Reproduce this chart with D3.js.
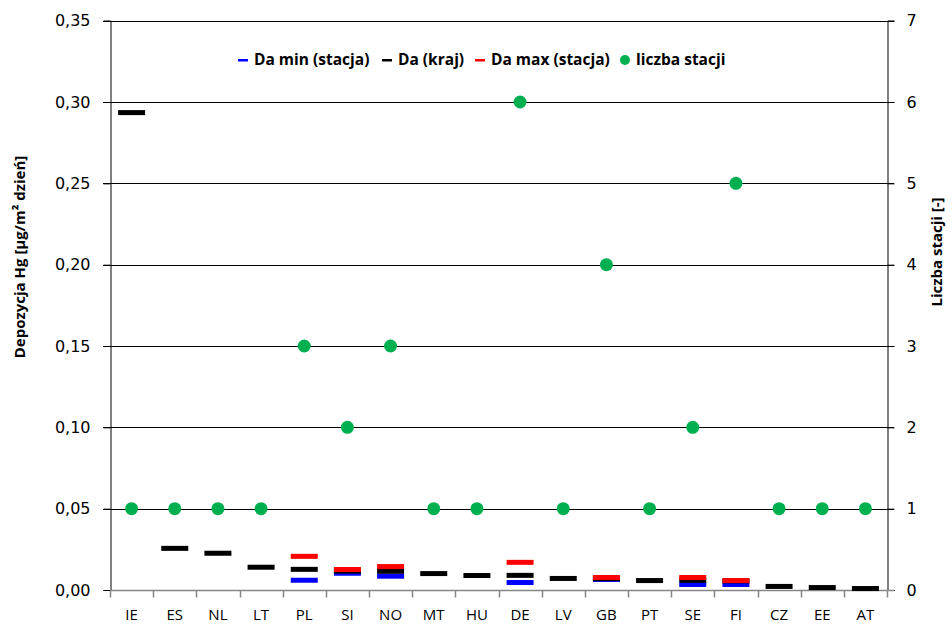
<!DOCTYPE html>
<html>
<head>
<meta charset="utf-8">
<script src="https://cdn.jsdelivr.net/npm/d3@7"></script>
<style>
  html, body { margin: 0; padding: 0; background: #fff; }
  svg { display: block; }
</style>
</head>
<body>
<svg id="chart" width="952" height="627"></svg>
<script>
// Countries along the x axis
const countries = ["IE","ES","NL","LT","PL","SI","NO","MT","HU","DE","LV","GB","PT","SE","FI","CZ","EE","AT"];
// Daily Hg deposition, µg/m² per day (null = no per-station value)
const daMin  = [null,null,null,null,0.0060,0.0103,0.0085,null,null,0.0046,null,0.0065,null,0.0034,0.0034,null,null,null];
const daKraj = [0.2935,0.0256,0.0226,0.0140,0.0127,0.0116,0.0115,0.0101,0.0089,0.0090,0.0071,0.0070,0.0058,0.0060,0.0056,0.0022,0.0015,0.0009];
const daMax  = [null,null,null,null,0.0207,0.0126,0.0144,null,null,0.0170,null,0.0077,null,0.0077,0.0058,null,null,null];
// Number of stations per country
const stations = [1,1,1,1,3,2,3,1,1,6,1,4,1,2,5,1,1,1];
// Axis ticks
const leftTicks  = [0,0.05,0.10,0.15,0.20,0.25,0.30,0.35];
const rightTicks = [0,1,2,3,4,5,6,7];

const svg = d3.select("#chart");
const m = { left: 110, right: 887, top: 20.7, bottom: 590 };

const x = d3.scaleBand().domain(countries).range([m.left, m.right]);
const yL = d3.scaleLinear().domain([0, 0.35]).range([m.bottom, m.top]);
const yR = d3.scaleLinear().domain([0, 7]).range([m.bottom, m.top]);

const numFont = "'DejaVu Sans', Verdana, sans-serif";
const lblFont = "'Open Sans', 'Noto Sans', sans-serif";
const fmt = d => d3.format(".2f")(d).replace(".", ",");

// Horizontal gridlines (extend over both tick marks)
svg.append("g").selectAll("line").data(leftTicks.slice(1)).join("line")
  .attr("x1", m.left - 7).attr("x2", m.right + 7)
  .attr("y1", d => Math.round(yL(d)) + 0.5).attr("y2", d => Math.round(yL(d)) + 0.5)
  .attr("stroke", "#000").attr("stroke-width", 1);

// Left axis
const gL = svg.append("g").attr("transform", `translate(${m.left + 0.5},0)`)
  .call(d3.axisLeft(yL).tickValues(leftTicks).tickFormat(fmt).tickSize(7).tickPadding(13));
gL.selectAll("path, line").attr("stroke", "#000");
gL.selectAll("text").attr("font-family", numFont).attr("font-size", 16).attr("fill", "#000");

// Right axis
const gR = svg.append("g").attr("transform", `translate(${m.right + 0.5},0)`)
  .call(d3.axisRight(yR).tickValues(rightTicks).tickFormat(d3.format("d")).tickSize(7).tickPadding(12));
gR.selectAll("path, line").attr("stroke", "#000");
gR.selectAll("text").attr("font-family", numFont).attr("font-size", 16).attr("fill", "#000");

// Bottom category axis (gray, ticks between categories)
const gB = svg.append("g").attr("transform", `translate(0,${m.bottom + 0.5})`);
gB.append("line").attr("x1", m.left).attr("x2", m.right + 7)
  .attr("stroke", "#868686").attr("stroke-width", 1.5);
const bounds = countries.map(c => x(c)).concat([m.right]);
gB.selectAll("line.tk").data(bounds).join("line").attr("class", "tk")
  .attr("x1", d => Math.round(d) + 0.5).attr("x2", d => Math.round(d) + 0.5)
  .attr("y1", 0).attr("y2", 7).attr("stroke", "#868686").attr("stroke-width", 1.5);
gB.selectAll("text").data(countries).join("text")
  .attr("x", d => x(d) + x.bandwidth() / 2).attr("y", 24.5)
  .attr("dy", "0.35em")
  .attr("text-anchor", "middle")
  .attr("font-family", lblFont).attr("font-size", 15).attr("fill", "#000")
  .text(d => d);

// Deposition dashes: min, country, max (later series on top)
const dashW = 27, dashH = 5;
const series = [
  { vals: daMin,  color: "#0000ff" },
  { vals: daKraj, color: "#000000" },
  { vals: daMax,  color: "#ff0000" }
];
series.forEach(s => {
  svg.append("g").selectAll("rect")
    .data(countries.map((c, i) => ({ c, v: s.vals[i] })).filter(d => d.v != null))
    .join("rect")
    .attr("x", d => x(d.c) + x.bandwidth() / 2 - dashW / 2)
    .attr("y", d => yL(d.v) - dashH / 2)
    .attr("width", dashW).attr("height", dashH)
    .attr("fill", s.color);
});

// Station counts (right axis)
svg.append("g").selectAll("circle")
  .data(countries.map((c, i) => ({ c, v: stations[i] })))
  .join("circle")
  .attr("cx", d => x(d.c) + x.bandwidth() / 2)
  .attr("cy", d => yR(d.v))
  .attr("r", 6.5)
  .attr("fill", "#00b050");

// Axis titles
svg.append("text")
  .attr("transform", "translate(25,257) rotate(-90)")
  .attr("text-anchor", "middle")
  .attr("font-family", lblFont).attr("font-weight", 700).attr("font-size", 15)
  .attr("fill", "#000")
  .text("Depozycja Hg [µg/m² dzień]");
svg.append("text")
  .attr("transform", "translate(942,252) rotate(-90)")
  .attr("text-anchor", "middle")
  .attr("font-family", lblFont).attr("font-weight", 700).attr("font-size", 15)
  .attr("fill", "#000")
  .text("Liczba stacji [-]");

// Legend
const legend = [
  { label: "Da min (stacja)", color: "#0000ff", x: 238, type: "dash" },
  { label: "Da (kraj)",       color: "#000000", x: 382, type: "dash" },
  { label: "Da max (stacja)", color: "#ff0000", x: 475, type: "dash" },
  { label: "liczba stacji",   color: "#00b050", x: 620, type: "dot" }
];
const lg = svg.append("g");
legend.forEach(d => {
  if (d.type === "dash") {
    lg.append("rect").attr("x", d.x).attr("y", 59).attr("width", 10).attr("height", 2.5).attr("fill", d.color);
  } else {
    lg.append("circle").attr("cx", d.x + 5).attr("cy", 60).attr("r", 5).attr("fill", d.color);
  }
  lg.append("text").attr("x", d.x + 16).attr("y", 60).attr("dy", "0.35em")
    .attr("font-family", lblFont).attr("font-weight", 700).attr("font-size", 15.5)
    .attr("fill", "#000").text(d.label);
});
</script>
</body>
</html>
